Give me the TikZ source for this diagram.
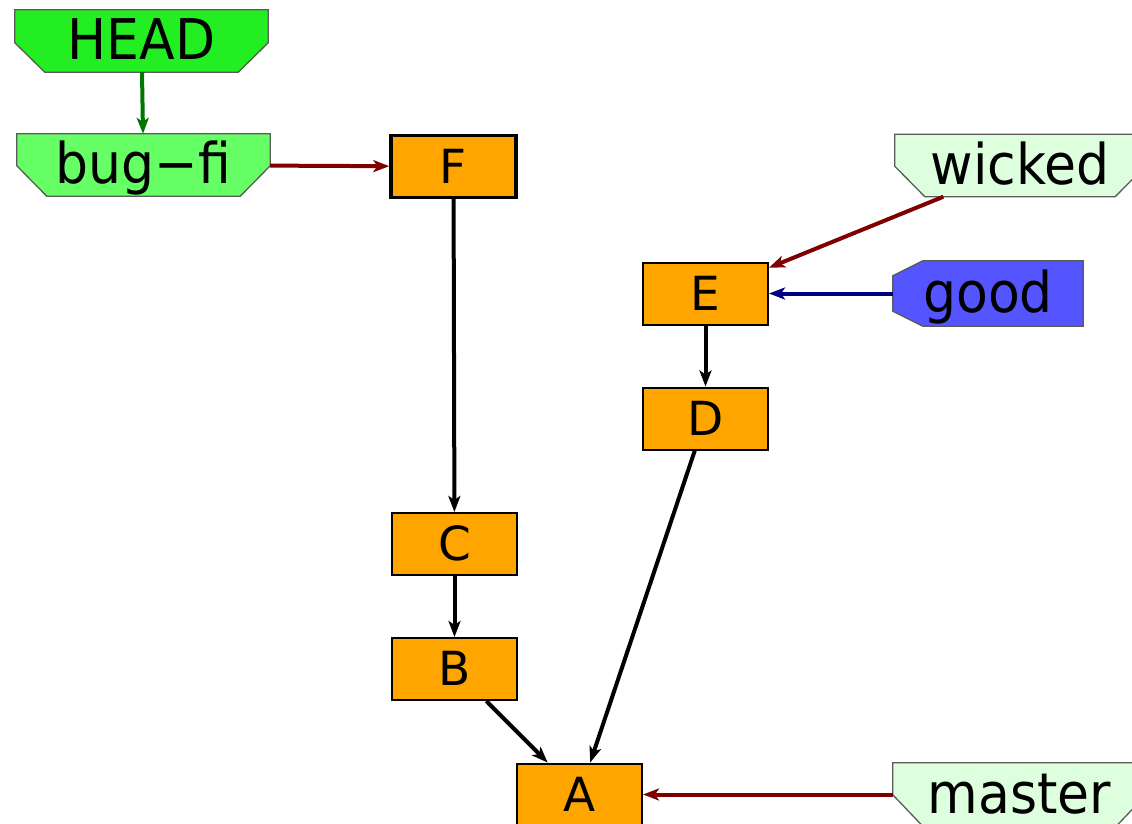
\documentclass[tikz,border=0pt]{standalone}
\usepackage{fontspec}
\setmainfont{DejaVu Sans}
\usetikzlibrary{arrows.meta,backgrounds,calc}
\definecolor{headgreen}{RGB}{34,238,34}
\definecolor{branchgreen}{RGB}{102,255,102}
\definecolor{palegreen}{RGB}{221,255,221}
\definecolor{goodblue}{RGB}{85,85,255}
\definecolor{commitorange}{RGB}{255,165,0}
\definecolor{edgered}{RGB}{128,0,0}
\definecolor{edgegreen}{RGB}{0,120,0}
\definecolor{edgenavy}{RGB}{0,0,128}
\definecolor{tagborder}{RGB}{90,90,90}
\newcommand\talltext[1]{\scalebox{1}[1.08]{#1}}
\begin{document}
\begin{tikzpicture}[x=1pt,y=-1pt,
  commit/.style={draw=black,fill=commitorange,line width=2pt,minimum width=125pt,minimum height=62pt,inner sep=0pt,
    font=\fontsize{47}{54}\selectfont,text height=33pt,text depth=0pt},
  lbl/.style={inner sep=0pt,minimum height=62pt,
    font=\fontsize{52}{60}\selectfont,text height=37pt,text depth=0pt},
  tagshape/.style={draw=tagborder,line width=1.3pt,line join=miter},
  edge/.style={line width=4pt,-{Stealth[length=16pt,width=12pt,inset=4pt]}}]
\clip (0,0) rectangle (1132,824);
\useasboundingbox (0,0) rectangle (1132,824);

% commits
\node[commit,line width=3.4pt] (F) at (453.5,166.5) {F};
\node[commit] (E) at (705.5,293.5) {E};
\node[commit] (D) at (705.5,418.5) {D};
\node[commit] (C) at (454.5,544) {C};
\node[commit] (B) at (454.5,669) {B};
\node[commit] (A) at (579.5,794.5) {A};

% labels
\node[lbl,minimum width=253pt] (head) at (141.5,41) {\talltext{HEAD}};
\node[lbl,minimum width=253pt] (bugfi) at (143.5,165) {\talltext{bug−fi}};
\node[lbl,minimum width=250pt] (wicked) at (1020,165.5) {\talltext{wicked}};
\node[lbl,minimum width=190pt,minimum height=65pt] (good) at (988,293.5) {\talltext{good}};
\node[lbl,minimum width=253pt,minimum height=63pt] (master) at (1019.5,794.5) {\talltext{master}};

\begin{pgfonlayer}{background}
  \path[tagshape,fill=headgreen]
    (head.north west) -- (head.north east) -- ($(head.north east)+(0,33)$)
    -- ($(head.south east)+(-30,0)$) -- ($(head.south west)+(30,0)$)
    -- ($(head.north west)+(0,33)$) -- cycle;
  \path[tagshape,fill=branchgreen]
    (bugfi.north west) -- (bugfi.north east) -- ($(bugfi.north east)+(0,32)$)
    -- ($(bugfi.south east)+(-30,0)$) -- ($(bugfi.south west)+(30,0)$)
    -- ($(bugfi.north west)+(0,32)$) -- cycle;
  \path[tagshape,fill=palegreen]
    (wicked.north west) -- (wicked.north east) -- ($(wicked.north east)+(0,32)$)
    -- ($(wicked.south east)+(-30,0)$) -- ($(wicked.south west)+(30,0)$)
    -- ($(wicked.north west)+(0,32)$) -- cycle;
  \path[tagshape,fill=palegreen]
    (master.north west) -- (master.north east) -- ($(master.north east)+(0,32)$)
    -- ($(master.south east)+(-30,0)$) -- ($(master.south west)+(30,0)$)
    -- ($(master.north west)+(0,32)$) -- cycle;
  \path[tagshape,fill=goodblue]
    ($(good.north west)+(30,0)$) -- (good.north east) -- (good.south east)
    -- ($(good.south west)+(30,0)$) -- ($(good.south west)+(0,-15)$)
    -- ($(good.north west)+(0,15)$) -- cycle;
\end{pgfonlayer}

% edges
\draw[edge,edgegreen] (head) -- (bugfi);
\draw[edge,edgered] (bugfi) -- (F);
\draw[edge,black] (F) -- (C);
\draw[edge,black] (C) -- (B);
\draw[edge,black] (B) -- (A);
\draw[edge,black] (D) -- (A);
\draw[edge,black] (E) -- (D);
\draw[edge,edgered] (wicked) -- (E);
\draw[edge,edgenavy] (good) -- (E);
\draw[edge,edgered] (master) -- (A);
\end{tikzpicture}
\end{document}
